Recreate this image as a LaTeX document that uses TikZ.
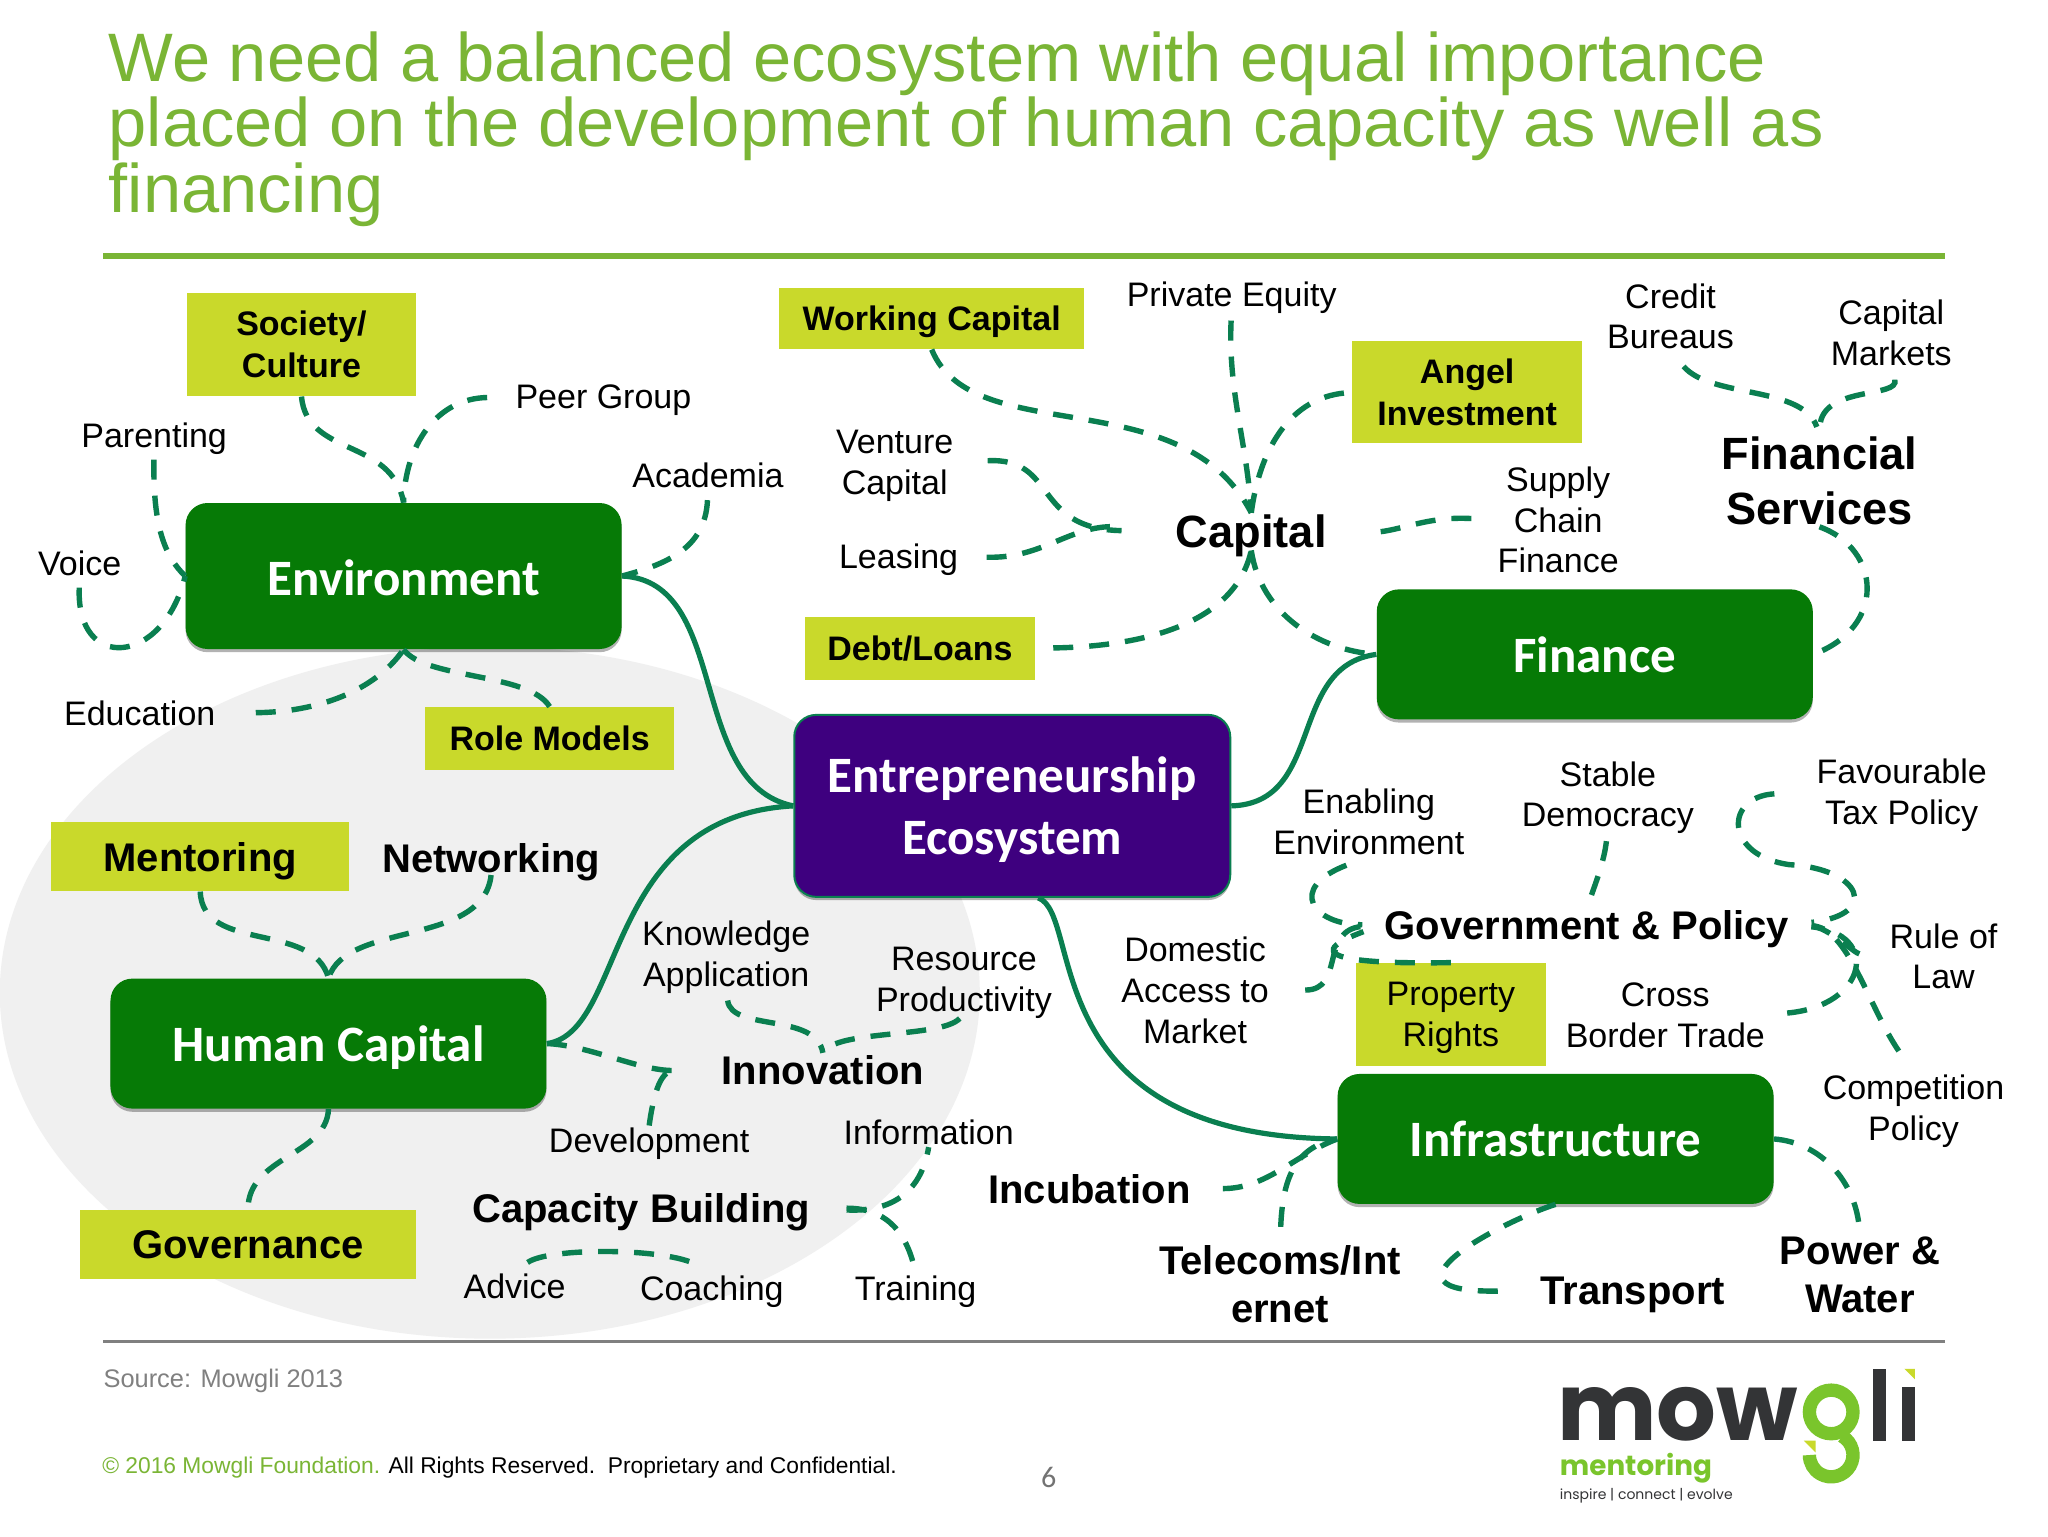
\documentclass[tikz,border=0pt]{standalone}
\usepackage{fontspec}
\usepackage{xcolor}
\usetikzlibrary{shadows}
\setmainfont{Liberation Sans}
\newfontfamily\boxfont{Carlito}
\newfontfamily\logofont{Poppins}

\begin{document}
\begin{tikzpicture}[x=0.65306pt,y=-0.65306pt,
  textsize/.style={font=\fontsize{17}{20.4}\selectfont},
  plainlabel/.style={textsize,align=center,inner sep=1pt,text depth=0pt},
  boldlabel/.style={font=\fontsize{20}{24.2}\selectfont\bfseries,align=center,inner sep=1pt,text depth=0pt},
  biglabel/.style={font=\fontsize{22.6}{27.4}\selectfont\bfseries,align=center,inner sep=1pt,text depth=0pt},
  limebox/.style={fill=limegreen,align=center,inner sep=0pt,anchor=north west,text depth=0pt},
  mainbox/.style={fill=boxgreen,rounded corners=11pt,text=white,align=center,inner sep=0pt,text depth=0pt,
    font=\boxfont\fontsize{25.5}{31}\selectfont\bfseries,
    drop shadow={shadow xshift=0pt,shadow yshift=-1.6pt,opacity=.3,fill=black}},
  stem/.style={draw=branchgreen,line width=2.6pt},
  branch/.style={draw=branchgreen,line width=2.7pt,dash pattern=on 10pt off 8pt}]
\definecolor{limegreen}{HTML}{C9D92B}
\definecolor{boxgreen}{HTML}{067A06}
\definecolor{branchgreen}{HTML}{0A7F50}
\definecolor{ecopurple}{HTML}{3E007F}
\definecolor{titlegreen}{HTML}{7AB535}
\definecolor{logogreen}{HTML}{7AC52C}
\definecolor{logodark}{HTML}{333436}
\useasboundingbox (0,0) rectangle (1568,1176);
\fill[white] (0,0) rectangle (1568,1176);
\fill[black!6] (375,760) ellipse [x radius=245pt,y radius=173pt];

% title and rules
\node[anchor=north west,inner sep=0pt,text width=960pt,text=titlegreen,
  font=\fontsize{34.3}{32.65}\selectfont] (title) at (83,24)
  {\spaceskip=9.25pt\relax We need a balanced ecosystem with equal importance\\placed on the development of human capacity as well as\\financing};
\coordinate (ruleleft) at (79,196);
\coordinate (ruleright) at (1489,196);
\coordinate (footleft) at (79,1027);
\coordinate (footright) at (1489,1027);
\draw[titlegreen,line width=2.6pt] (ruleleft) -- (ruleright);
\draw[black!50,line width=1.3pt] (footleft) -- (footright);

% the five main boxes
\node[mainbox,minimum width=218pt,minimum height=73pt,text height=19pt] (environment) at (309,441) {Environment};
\node[mainbox,minimum width=218pt,minimum height=65pt] (humancap) at (251.5,799) {Human Capital};
\node[mainbox,minimum width=218pt,minimum height=65pt] (finance) at (1221,501) {Finance};
\node[mainbox,minimum width=218pt,minimum height=65pt] (infra) at (1191,872) {Infrastructure};
\node[mainbox,fill=ecopurple,draw=branchgreen,line width=1pt,minimum width=218pt,minimum height=91pt] (eco) at (775,617) {Entrepreneurship\\Ecosystem};

% lime boxes
\foreach \nm/\xa/\ya/\bw/\bh/\txt in {society/143/224/175/79/{Society/\\Culture},rolemodels/325/541/191/48/{Role Models},
  working/596/220/234/47/{Working Capital},debt/616/472/176/48/{Debt/Loans},angel/1035/261/176/78/{Angel\\Investment}}
  {\node[limebox,minimum width=\bw*0.65306pt,minimum height=\bh*0.65306pt,font=\fontsize{17}{20.9}\selectfont\bfseries] (\nm) at (\xa,\ya) {\txt};}
\foreach \nm/\xa/\ya/\bw/\bh/\txt in {mentoring/39/629/228/53/Mentoring,governance/61/926/257/53/Governance}
  {\node[limebox,minimum width=\bw*0.65306pt,minimum height=\bh*0.65306pt,font=\fontsize{20}{24}\selectfont\bfseries] (\nm) at (\xa,\ya) {\txt};}
\node[limebox,minimum width=94.7pt,minimum height=51.6pt,textsize] (property) at (1038,737) {Property\\Rights};

% plain labels
\foreach \nm/\xx/\yy/\txt in {peer/462/304/Peer Group,parenting/118/333/Parenting,academia/542/364/Academia,
  voice/61/431/Voice,education/107/546/Education,private/943/225/Private Equity,venture/685/354/{Venture\\Capital},
  leasing/688/426/Leasing,supply/1193/398/{Supply\\Chain\\Finance},credit/1279/242/{Credit\\Bureaus},
  markets/1448/255/{Capital\\Markets},enabling/1048/629/{Enabling\\Environment},stable/1231/608/{Stable\\Democracy},
  favourable/1456/606/{Favourable\\Tax Policy},rule/1488/732/{Rule of\\Law},cross/1275/777/{Cross\\Border Trade},
  domestic/915/758/{Domestic\\Access to\\Market},competition/1465/848/{Competition\\Policy},
  knowledge/556/730/{Knowledge\\Application},resource/738/750/{Resource\\Productivity},development/497/873/Development,
  information/711/867/Information,advice/394/985/Advice,coaching/545/986/Coaching,training/701/986/Training}
  {\node[plainlabel] (\nm) at (\xx,\yy) {\txt};}

% bold labels
\foreach \nm/\xx/\yy/\txt in {networking/376/657/Networking,government/1215/708/Government \& Policy,
  innovation/630/819/Innovation,incubation/834/910/Incubation,capacity/491/925/Capacity Building,
  telecoms/980/983/{Telecoms/Int\\ernet},transport/1250/988/Transport,power/1424/976/{Power \&\\Water}}
  {\node[boldlabel] (\nm) at (\xx,\yy) {\txt};}
\node[biglabel] (capital) at (958,407) {Capital};
\node[biglabel] (financial) at (1393,368) {Financial\\Services};

% solid stems
\draw[stem] (environment.east) .. controls (560,445) and (525,600) .. (eco.west);
\draw[stem] (humancap.east) .. controls (480,790) and (460,625) .. (eco.west);
\draw[stem] (finance.west) .. controls (985,510) and (1015,615) .. (eco.east);
\draw[stem] ([xshift=13pt]eco.south) .. controls (830,700) and (790,870) .. (infra.west);

% environment branches
\draw[branch] (society.south) .. controls (235,350) and (300,335) .. (environment.north);
\draw[branch,shorten <=13pt] (peer.west) .. controls (335,305) and (310,340) .. (environment.north);
\draw[branch,shorten <=5pt] (parenting.south) .. controls (117,400) and (125,425) .. (environment.west);
\draw[branch,shorten <=5pt] (voice.south) .. controls (58,515) and (125,510) .. (environment.west);
\draw[branch,shorten <=5pt] (academia.south) .. controls (540,420) and (510,432) .. (environment.east);
\draw[branch,shorten <=19pt] (education.east) .. controls (250,545) and (290,525) .. (environment.south);
\draw[branch] (rolemodels.north) .. controls (405,515) and (325,520) .. (environment.south);

% human capital branches
\draw[branch] (mentoring.south) .. controls (155,730) and (240,705) .. (humancap.north);
\draw[branch] (networking.south) .. controls (370,725) and (265,705) .. (humancap.north);
\draw[branch] (humancap.south) .. controls (250,885) and (190,885) .. (governance.north);
\draw[branch,shorten >=23pt] (humancap.east) .. controls (450,800) and (490,820) .. (innovation.west);
\draw[branch,shorten >=23pt] (development.north) .. controls (500,840) and (505,820) .. (innovation.west);
\draw[branch,shorten <=6pt] (knowledge.south) .. controls (560,790) and (625,775) .. (innovation.north);
\draw[branch,shorten <=3pt] (resource.south) .. controls (720,795) and (640,788) .. (innovation.north);
\draw[branch,shorten <=17pt] (capacity.east) .. controls (680,928) and (705,915) .. (information.south);
\draw[branch,shorten <=17pt] (capacity.east) .. controls (680,925) and (695,945) .. (training.north);
\draw[branch,shorten <=8pt,shorten >=8pt] (advice.north) .. controls (420,955) and (510,955) .. (coaching.north);

% capital and finance branches
\draw[branch] (working.south) .. controls (745,345) and (905,290) .. (capital.north);
\draw[branch,shorten <=6pt] (private.south) .. controls (940,300) and (955,340) .. (capital.north);
\draw[branch,shorten <=4pt] (angel.west) .. controls (990,305) and (965,340) .. (capital.north);
\draw[branch,shorten <=16pt,shorten >=26pt] (venture.east) .. controls (810,350) and (790,405) .. (capital.west);
\draw[branch,shorten <=13pt,shorten >=26pt] (leasing.east) .. controls (800,428) and (820,400) .. (capital.west);
\draw[branch,shorten <=9pt] (debt.east) .. controls (870,495) and (945,480) .. (capital.south);
\draw[branch] (capital.south) .. controls (965,470) and (1010,498) .. (finance.west);
\draw[branch,shorten <=12pt,shorten >=20pt] (supply.west) .. controls (1090,395) and (1070,408) .. (capital.east);
\draw[branch,shorten <=10pt,shorten >=4pt] (credit.south) .. controls (1310,305) and (1380,295) .. (financial.north);
\draw[branch,shorten <=6pt,shorten >=4pt] (markets.south) .. controls (1455,305) and (1395,295) .. (financial.north);
\draw[branch] (financial.south) .. controls (1440,420) and (1445,480) .. (finance.east);

% government and infrastructure branches
\draw[branch,shorten <=12pt,shorten >=10pt] (enabling.south) .. controls (985,680) and (1005,708) .. (government.west);
\draw[branch,shorten <=17pt,shorten >=10pt] (domestic.east) .. controls (1030,758) and (1010,712) .. (government.west);
\draw[branch,shorten >=10pt] (property.north) .. controls (1050,738) and (985,735) .. (government.west);
\draw[branch,shorten <=6pt,shorten >=3pt] (stable.south) .. controls (1228,660) and (1222,675) .. (government.north);
\draw[branch,shorten <=20pt,shorten >=10pt] (favourable.west) .. controls (1320,610) and (1320,655) .. (1370,662)
  .. controls (1425,665) and (1440,700) .. (government.east);
\draw[branch,shorten <=14pt,shorten >=10pt] (rule.west) .. controls (1420,730) and (1400,710) .. (government.east);
\draw[branch,shorten <=10pt,shorten >=10pt] (cross.east) .. controls (1430,770) and (1440,715) .. (government.east);
\draw[branch,shorten <=13pt,shorten >=10pt] (competition.north) .. controls (1430,770) and (1415,710) .. (government.east);
\draw[branch,shorten <=15pt] (incubation.east) .. controls (970,910) and (990,885) .. (infra.west);
\draw[branch,shorten <=8pt] (telecoms.north) .. controls (982,905) and (990,878) .. (infra.west);
\draw[branch,shorten >=20pt] (infra.south) .. controls (1150,935) and (1045,990) .. (transport.west);
\draw[branch,shorten >=4pt] (infra.east) .. controls (1395,875) and (1420,905) .. (power.north);

% footer
\node[anchor=west,inner sep=0pt,text=black!50,text depth=0pt,font=\fontsize{12.7}{15}\selectfont] (source) at (79,1055) {Source: Mowgli 2013};
\node[anchor=west,inner sep=0pt,text depth=0pt,font=\fontsize{11.4}{14}\selectfont] (rights) at (78,1122)
  {\textcolor{titlegreen}{© 2016 Mowgli Foundation.} All Rights Reserved.\ \ Proprietary and Confidential.};
\node[inner sep=0pt,text=black!55,font=\boxfont\fontsize{15}{18}\selectfont] (pagenum) at (803,1131) {6};

% logo
\node[anchor=base west,inner sep=0pt,text=logodark,font=\logofont\fontsize{47}{50}\selectfont\bfseries] (logomow) at (1192,1103) {mow};
\node[anchor=base west,inner sep=0pt,text=logogreen,font=\logofont\fontsize{13.9}{16}\selectfont\bfseries] (logoment) at (1194,1130) {mentoring};
\node[anchor=base west,inner sep=0pt,text=logodark,font=\logofont\fontsize{7}{9}\selectfont] (logotag) at (1194,1148) {inspire | connect | evolve};
\draw[logogreen,line width=6.67pt] (1402,1081) circle [radius=10.9pt];
\draw[logogreen,line width=6.67pt] ([shift={(60:10.9pt)}]1402,1114) arc [start angle=60,end angle=-180,radius=10.9pt];
\fill[logodark] (1434,1048) rectangle (1444,1103);
\fill[logodark] (1456,1062) rectangle (1466,1103);
\fill[limegreen] (1458,1048) -- (1466,1048) -- (1466,1056) -- cycle;
\fill[limegreen] (1381,1103) -- (1390,1103) -- (1390,1112) -- cycle;
\end{tikzpicture}
\end{document}
